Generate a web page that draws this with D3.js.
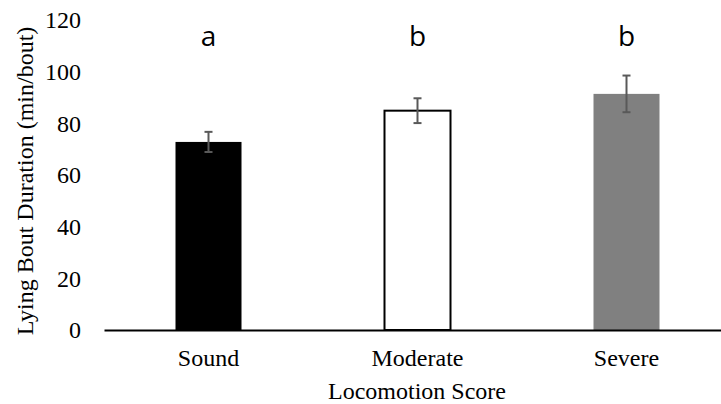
<!DOCTYPE html>
<html>
<head>
<meta charset="utf-8">
<script src="https://cdn.jsdelivr.net/npm/d3@7"></script>
<style>
  body { margin: 0; background: #fff; }
  svg { display: block; }
</style>
</head>
<body>
<div id="chart"></div>
<script>
// data
var categories = ['Sound', 'Moderate', 'Severe'];
var means = [72.8, 84.9, 91.4];
var errors = [3.9, 4.8, 7.1];
var letters = ['a', 'b', 'b'];
var yTicks = [0, 20, 40, 60, 80, 100, 120];
var fills = ['#000000', '#ffffff', '#808080'];

var svgWidth = 721;
var svgHeight = 404;

var margins = { top: 20, bottom: 74, left: 104, right: -10 };

var serif = '"Liberation Serif", "Times New Roman", serif';

var svg = d3.select('#chart')
    .append('svg')
    .attr('width', svgWidth)
    .attr('height', svgHeight);

var xScale = d3.scaleBand()
    .domain(categories)
    .range([margins.left, svgWidth - margins.right]);

var yScale = d3.scaleLinear()
    .domain([0, 120])
    .range([svgHeight - margins.bottom, margins.top]);

var barWidth = 66;

// y tick labels (no axis line)
var yAxis = d3.axisLeft(yScale).tickValues(yTicks).tickSize(0).tickPadding(0);
var yG = svg.append('g')
    .attr('transform', 'translate(81,0)')
    .call(yAxis);
yG.select('.domain').remove();
yG.selectAll('text')
    .attr('font-family', serif)
    .attr('font-size', 24)
    .attr('fill', '#000');

// bars
svg.selectAll('.bar')
    .data(categories)
    .enter()
    .append('rect')
    .attr('x', d => xScale(d) + xScale.bandwidth() / 2 - barWidth / 2)
    .attr('y', (d, i) => yScale(means[i]))
    .attr('width', barWidth)
    .attr('height', (d, i) => yScale(0) - yScale(means[i]))
    .attr('fill', (d, i) => fills[i])
    .attr('stroke', (d, i) => i == 1 ? '#000' : 'none')
    .attr('stroke-width', 2);

// error bars
var errG = svg.selectAll('.err')
    .data(categories)
    .enter()
    .append('g')
    .attr('stroke', '#595959')
    .attr('stroke-width', 2);
errG.append('line')
    .attr('x1', d => xScale(d) + xScale.bandwidth() / 2)
    .attr('x2', d => xScale(d) + xScale.bandwidth() / 2)
    .attr('y1', (d, i) => yScale(means[i] + errors[i]))
    .attr('y2', (d, i) => yScale(means[i] - errors[i]));
errG.append('line')
    .attr('x1', d => xScale(d) + xScale.bandwidth() / 2 - 4)
    .attr('x2', d => xScale(d) + xScale.bandwidth() / 2 + 4)
    .attr('y1', (d, i) => yScale(means[i] + errors[i]))
    .attr('y2', (d, i) => yScale(means[i] + errors[i]));
errG.append('line')
    .attr('x1', d => xScale(d) + xScale.bandwidth() / 2 - 4)
    .attr('x2', d => xScale(d) + xScale.bandwidth() / 2 + 4)
    .attr('y1', (d, i) => yScale(means[i] - errors[i]))
    .attr('y2', (d, i) => yScale(means[i] - errors[i]));

// x axis
var xAxis = d3.axisBottom(xScale).tickSize(0).tickPadding(0);
var xG = svg.append('g')
    .attr('transform', `translate(0, ${yScale(0)})`)
    .call(xAxis);
xG.select('.domain')
    .attr('stroke', '#000')
    .attr('stroke-width', 2);
xG.selectAll('text')
    .attr('dy', null)
    .attr('y', 36)
    .attr('font-family', serif)
    .attr('font-size', 24)
    .attr('fill', '#000');

// significance letters
svg.selectAll('.letter')
    .data(categories)
    .enter()
    .append('text')
    .attr('x', d => xScale(d) + xScale.bandwidth() / 2)
    .attr('y', 46)
    .attr('text-anchor', 'middle')
    .attr('font-family', '"Open Sans", sans-serif')
    .attr('font-size', 28)
    .text((d, i) => letters[i]);

// axis titles
svg.append('text')
    .attr('transform', 'rotate(-90)')
    .attr('x', -181)
    .attr('y', 33)
    .attr('text-anchor', 'middle')
    .attr('font-family', serif)
    .attr('font-size', 24)
    .text('Lying Bout Duration (min/bout)');

svg.append('text')
    .attr('x', 417)
    .attr('y', 399)
    .attr('text-anchor', 'middle')
    .attr('font-family', serif)
    .attr('font-size', 24)
    .text('Locomotion Score');
</script>
</body>
</html>
